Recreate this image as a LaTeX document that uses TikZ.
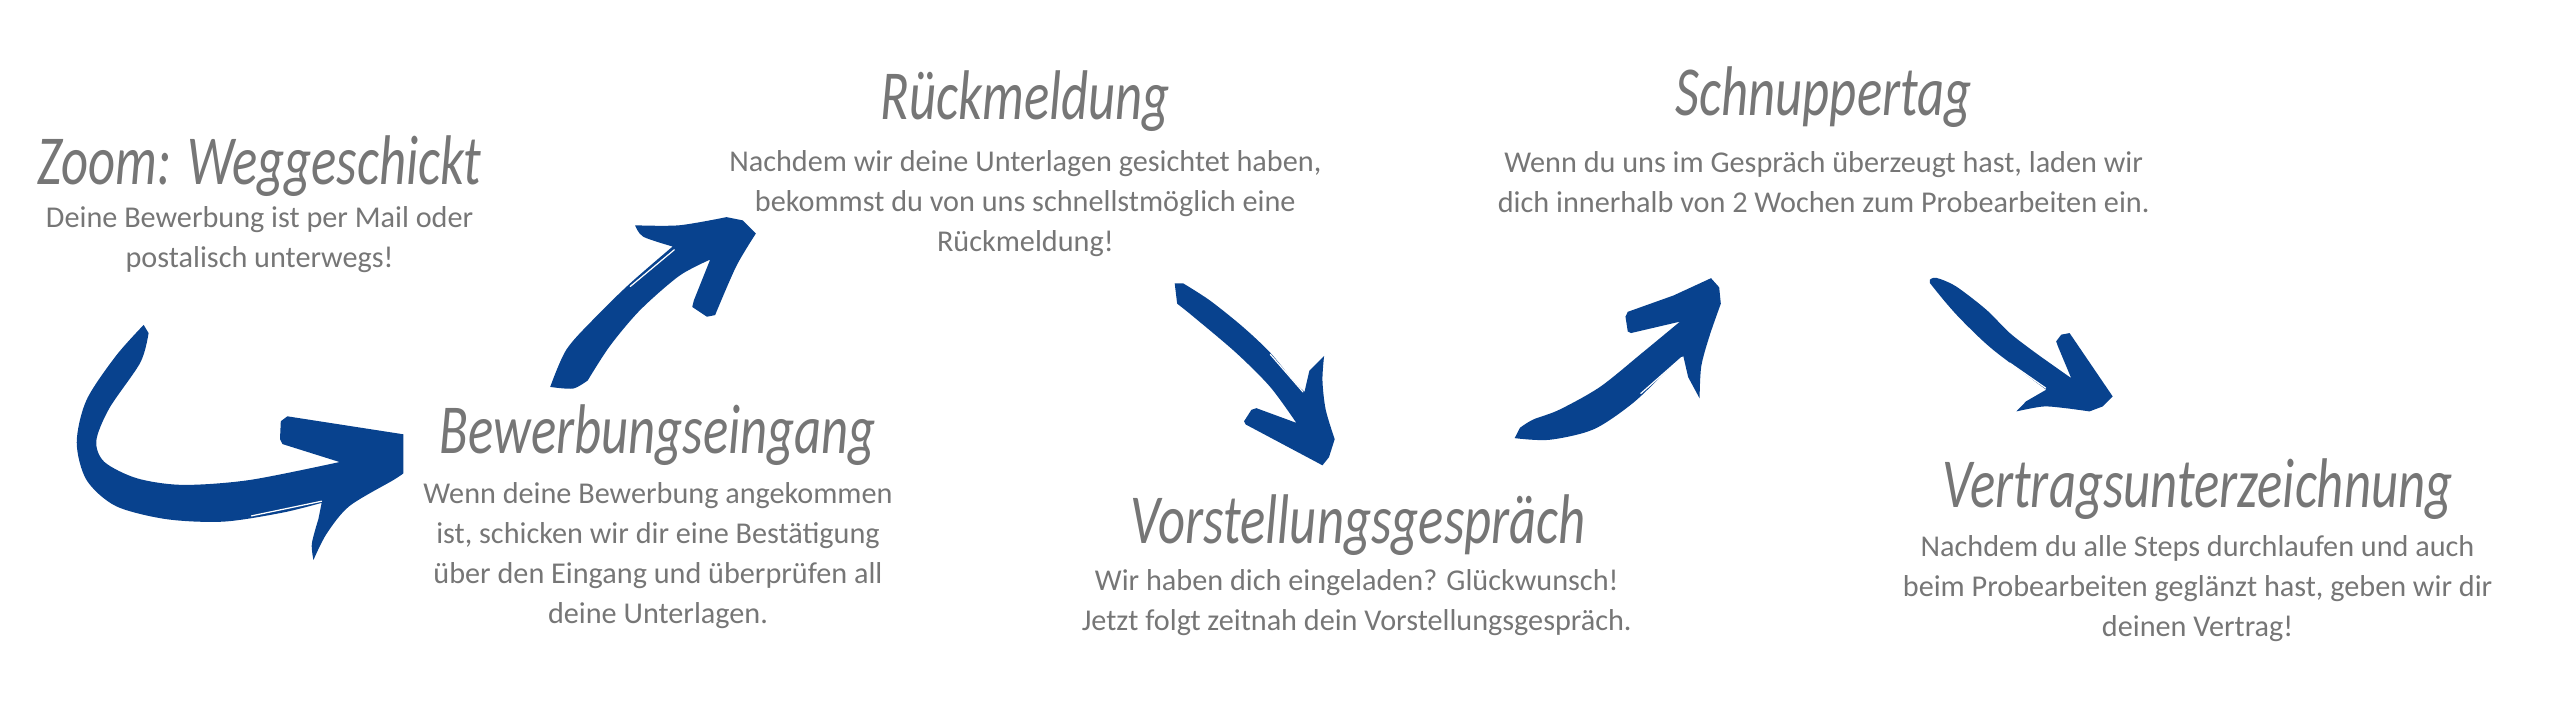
\documentclass[tikz,border=0pt]{standalone}
\usepackage{fontspec}
\setmainfont{Carlito}
\newfontfamily\titlefont[FakeStretch=0.75]{Carlito}
\usetikzlibrary{positioning}
\definecolor{arrowblue}{RGB}{8,66,142}
\definecolor{textgray}{RGB}{118,118,118}
\begin{document}
\begin{tikzpicture}[x=0.1633mm, y=-0.1633mm,
  titletext/.style={text=textgray, font=\titlefont\itshape\fontsize{20}{20}\selectfont, inner sep=0pt, anchor=base},
  bodytext/.style={text=textgray, font=\fontsize{8.6}{11.4}\selectfont, align=center, inner sep=0pt, anchor=base},
  brush/.style={fill=arrowblue, draw=none},
  scratch/.style={draw=white, line width=0.35pt, line cap=round}]
\useasboundingbox (0,0) rectangle (1568,435.4);

% steps (body nodes sit on their last line)
\node [titletext] (zoomT) at (159,113) {Zoom: Weggeschickt};
\node [bodytext] (zoomB) at (159,164) {Deine Bewerbung ist per Mail oder\\postalisch unterwegs!};
\node [titletext] (eingT) at (403,278) {Bewerbungseingang};
\node [bodytext] (eingB) at (403,382) {Wenn deine Bewerbung angekommen\\ist, schicken wir dir eine Bestätigung\\über den Eingang und überprüfen all\\deine Unterlagen.};
\node [titletext] (rueckT) at (628,73) {Rückmeldung};
\node [bodytext] (rueckB) at (628,154) {Nachdem wir deine Unterlagen gesichtet haben,\\bekommst du von uns schnellstmöglich eine\\Rückmeldung!};
\node [titletext] (vorstT) at (832,333) {Vorstellungsgespräch};
\node [bodytext] (vorstB) at (831,386) {Wir haben dich eingeladen? Glückwunsch!\\Jetzt folgt zeitnah dein Vorstellungsgespräch.};
\node [titletext] (schnT) at (1117,71) {Schnuppertag};
\node [bodytext] (schnB) at (1117,130) {Wenn du uns im Gespräch überzeugt hast, laden wir\\dich innerhalb von 2 Wochen zum Probearbeiten ein.};
\node [titletext] (vertT) at (1346,311) {Vertragsunterzeichnung};
\node [bodytext] (vertB) at (1346,390) {Nachdem du alle Steps durchlaufen und auch\\beim Probearbeiten geglänzt hast, geben wir dir\\deinen Vertrag!};

% arrows
\fill [brush] (88,199) -- plot [smooth] coordinates {(88,199) (71,218) (53,245) (47,271) (53,294) (71,310) (102,318) (137,319.5) (173,314) (197,308)}
  -- plot [smooth] coordinates {(195,318) (191,333) (192,343)}
  -- plot [smooth] coordinates {(192,343) (200,327) (214,310) (241,294) (247,290)}
  -- (247,266) -- (176,255) -- (172,258) -- (171.5,269) -- (173,272)
  -- plot [smooth] coordinates {(208,283) (153,294) (112,297) (84,293) (64,283) (59,270) (67,250) (86,222) (91,204)} -- cycle;
\fill [brush] (337,237) -- plot [smooth] coordinates {(337,237) (351,238) (360,233)}
  -- plot [smooth] coordinates {(360,233) (373.5,212) (392,190) (416,169) (435,159)}
  -- (425,184) -- (424,188) -- (433,194) -- (438,193)
  -- plot [smooth] coordinates {(438,193) (451,163) (463,143)} -- (455,135) -- (445,133)
  -- plot [smooth] coordinates {(445,133) (416,138) (389,138)}
  -- plot [smooth] coordinates {(389,138) (394,145) (412,151)}
  -- plot [smooth] coordinates {(412,151) (386,173.5) (365,194) (347,214) (337,237)} -- cycle;
\fill [brush] (719.5,173.5) -- plot [smooth] coordinates {(724.6,173.5) (741,184) (761,200) (778,216) (792,233) (799,240)}
  -- (802,227) -- (811,218)
  -- plot [smooth] coordinates {(811,218) (810,233) (812,251) (817.5,269)} -- (814,280) -- (810,285)
  -- (763,260) -- (762,258) -- (766.5,251) -- (769.5,250)
  -- plot [smooth] coordinates {(794,259) (778,237) (757,216) (731,194) (721,186)} -- cycle;
\fill [brush] (927.7,268.4) -- plot [smooth] coordinates {(928,268.4) (949,269.4) (976,263) (1000,247) (1021,227) (1031,218)}
  -- (1034,231) -- (1041,244)
  -- plot [smooth] coordinates {(1041,244) (1042,224.5) (1047,206) (1054,186)} -- (1053,176) -- (1048,170.4)
  -- (1025,181) -- (997,191) -- (995.6,194) -- (997,203) -- (999,204)
  -- plot [smooth] coordinates {(1029,197) (1006,216) (980,237) (955,251) (939,257) (931,262)} -- cycle;
\fill [brush] (1182,171.4) -- plot [smooth] coordinates {(1182,171.4) (1186,170.2) (1198,175.4) (1216.6,189.7) (1231,204) (1247,216.3) (1268.6,231.6)}
  -- (1260.5,212.2) -- (1259.4,209.1) -- (1262.5,205) -- (1267.6,204) -- (1294,242.8) -- (1288,248.9)
  -- plot [smooth] coordinates {(1279.8,252) (1265,250) (1251.3,249) (1235,252)} -- (1241,245.8)
  -- plot [smooth] coordinates {(1253.3,238.7) (1220.7,214.2) (1202.3,196.9) (1192,185.6) (1182,173.3)} -- cycle;

% brush marks
\draw [scratch] (154,316) -- (197,307);
\draw [scratch] (386,175.5) -- (413,153);
\draw [scratch] (778,217) -- (798,240);
\draw [scratch] (1005,241) -- (1030,219);
\draw [scratch] (1231,222.4) -- (1253,237.7);
\end{tikzpicture}
\end{document}
